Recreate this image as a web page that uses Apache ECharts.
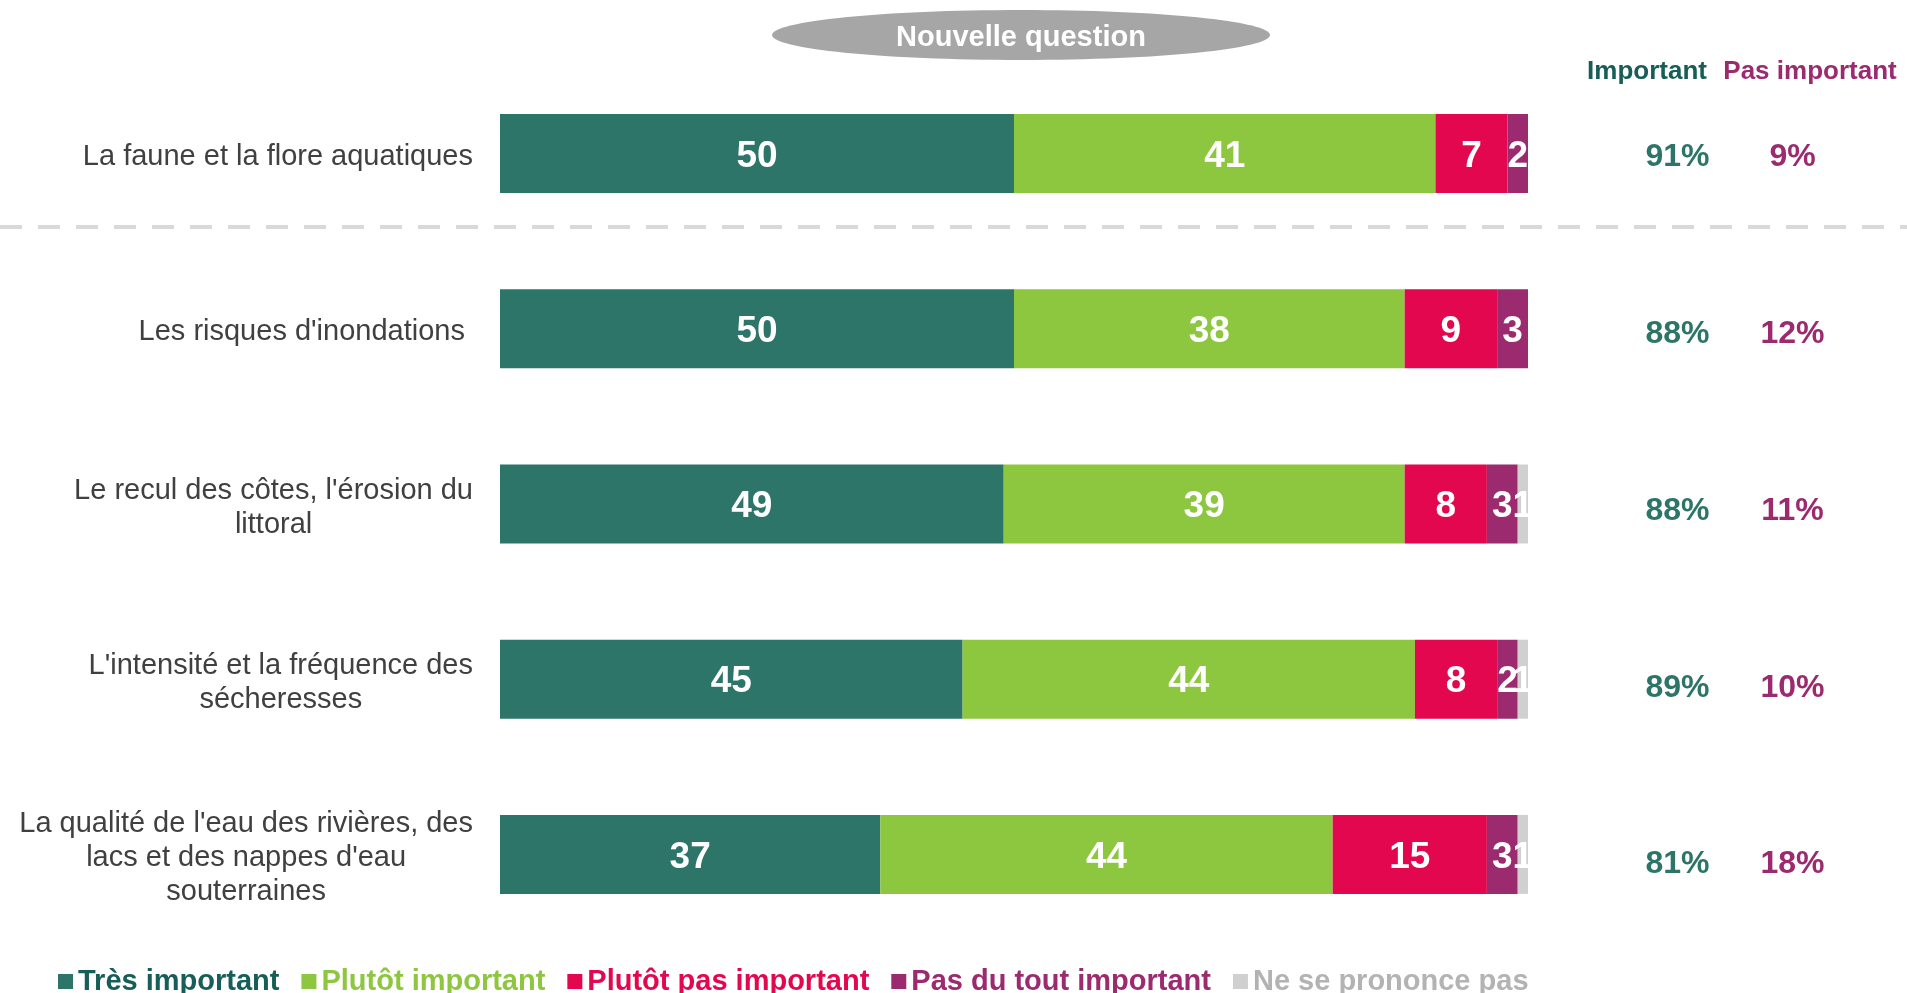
<!DOCTYPE html>
<html>
<head>
<meta charset="utf-8">
<script src="https://cdn.jsdelivr.net/npm/echarts@6/dist/echarts.min.js"></script>
<style>
  html, body { margin: 0; padding: 0; background: #fff; }
  #chart { width: 1907px; height: 993px; }
</style>
</head>
<body>
<div id="chart"></div>
<script>
// données
const categories = [
  'La faune et la flore aquatiques',
  "Les risques d'inondations ",
  "Le recul des côtes, l'érosion du\nlittoral",
  "L'intensité et la fréquence des\nsécheresses",
  "La qualité de l'eau des rivières, des\nlacs et des nappes d'eau\nsouterraines"
];
const seriesNames = ['Très important', 'Plutôt important', 'Plutôt pas important', 'Pas du tout important', 'Ne se prononce pas'];
const tresImportant = [50, 50, 49, 45, 37];
const plutotImportant = [41, 38, 39, 44, 44];
const plutotPasImportant = [7, 9, 8, 8, 15];
const pasDuToutImportant = [2, 3, 3, 2, 3];
const nsp = [0, 0, 1, 1, 1];
const totalImportant = [91, 88, 88, 89, 81];
const totalPasImportant = [9, 12, 11, 10, 18];

const barColors = ['#2e7569', '#8dc63f', '#e2074f', '#9b2a6f', '#d0d0d0'];
const legendColors = ['#165e57', '#8dc63f', '#e2074f', '#9b2a6f', '#b3b3b3'];
const FONT = "'Liberation Sans', Arial, sans-serif";

const chart = echarts.init(document.getElementById('chart'));

const barData = [tresImportant, plutotImportant, plutotPasImportant, pasDuToutImportant, nsp];
const barSeries = barData.map((d, i) => ({
  name: seriesNames[i],
  type: 'bar',
  stack: 'total',
  barWidth: 79,
  data: d,
  itemStyle: { color: barColors[i] },
  label: {
    show: true,
    position: 'inside',
    offset: [0, 3],
    color: '#fff',
    fontFamily: FONT,
    fontSize: 37,
    fontWeight: 'bold',
    formatter: p => (p.value ? p.value : '')
  }
}));

// colonnes Important / Pas important (grille de droite)
const pctSeries = [
  { x: 0.5, vals: totalImportant, color: '#2e7569' },
  { x: 1.5, vals: totalPasImportant, color: '#9b2a6f' }
].map(c => ({
  type: 'scatter',
  xAxisIndex: 1,
  yAxisIndex: 1,
  symbolSize: 1,
  itemStyle: { color: 'rgba(0,0,0,0)', opacity: 1 },
  silent: true,
  data: c.vals.map((v, i) => [c.x, i]),
  label: {
    show: true,
    position: 'inside',
    color: c.color,
    fontFamily: FONT,
    fontSize: 32,
    fontWeight: 'bold',
    formatter: p => c.vals[p.dataIndex] + '%'
  }
}));

const option = {
  animation: false,
  backgroundColor: '#fff',
  grid: [
    { left: 500, right: 379, top: 66, bottom: 51 },
    { left: 1620, width: 230, top: 69, bottom: 40 }
  ],
  xAxis: [
    { type: 'value', min: 0, max: 100, show: false, gridIndex: 0 },
    { type: 'value', min: 0, max: 2, show: false, gridIndex: 1 }
  ],
  yAxis: [
    {
      type: 'category',
      gridIndex: 0,
      inverse: true,
      data: categories,
      axisLine: { show: false },
      axisTick: { show: false },
      axisLabel: {
        margin: 27,
        padding: [7, 0, 0, 0],
        formatter: v => v.split('\n').map(s => '{c|' + s + '}').join('\n'),
        rich: {
          c: { align: 'center', fontFamily: FONT, fontSize: 29, color: '#404040', lineHeight: 34 }
        }
      }
    },
    { type: 'category', gridIndex: 1, inverse: true, data: categories, show: false }
  ],
  legend: {
    left: 53,
    top: 962,
    icon: 'rect',
    itemWidth: 15,
    itemHeight: 15,
    itemGap: 22,
    selectedMode: false,
    textStyle: { fontFamily: FONT, fontSize: 29, fontWeight: 'bold' },
    data: seriesNames.map((n, i) => ({ name: n, textStyle: { color: legendColors[i] } }))
  },
  graphic: [
    {
      type: 'line',
      shape: { x1: 0, y1: 227, x2: 1907, y2: 227 },
      style: { stroke: '#d9d9d9', lineWidth: 4, lineDash: [22, 16] }
    },
    {
      type: 'ellipse',
      shape: { cx: 1021, cy: 35, rx: 249, ry: 25 },
      style: { fill: '#a6a6a6' }
    },
    {
      type: 'text',
      x: 1021, y: 38,
      style: {
        text: 'Nouvelle question', fill: '#fff',
        font: 'bold 29px ' + FONT,
        align: 'center', verticalAlign: 'middle',
        textAlign: 'center', textVerticalAlign: 'middle'
      }
    },
    {
      type: 'text',
      x: 1647, y: 72,
      style: {
        text: 'Important', fill: '#165e57',
        font: 'bold 26px ' + FONT,
        align: 'center', verticalAlign: 'middle',
        textAlign: 'center', textVerticalAlign: 'middle'
      }
    },
    {
      type: 'text',
      x: 1810, y: 72,
      style: {
        text: 'Pas important', fill: '#9b2a6f',
        font: 'bold 26px ' + FONT,
        align: 'center', verticalAlign: 'middle',
        textAlign: 'center', textVerticalAlign: 'middle'
      }
    }
  ],
  series: barSeries.concat(pctSeries)
};

chart.setOption(option);
window.addEventListener('resize', () => chart.resize());
</script>
</body>
</html>
